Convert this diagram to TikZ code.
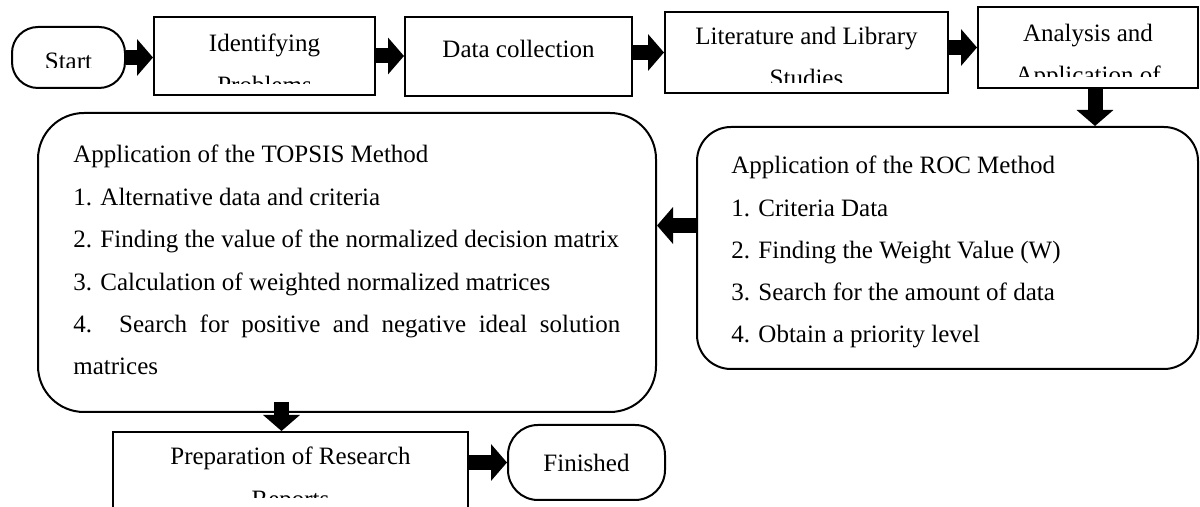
\documentclass[tikz,border=0pt]{standalone}
\usepackage{fontspec}
\setmainfont{Liberation Serif}
\usetikzlibrary{arrows.meta}

\begin{document}
\begin{tikzpicture}[x=0.5pt,y=-0.5pt,
  frame/.style={draw=black,line width=1pt,inner sep=0pt},
  sqbox/.style={frame},
  rbox/.style={frame,rounded corners=#1},
  lbl/.style={inner sep=0pt,font=\fontsize{12.5}{14}\selectfont},
  flow/.style={line width=7.5pt,-{Triangle[width=18pt,length=8pt]}}]

\useasboundingbox (0,0) rectangle (1200,507);
\clip (0,0) rectangle (1200,507);

% ---------- boxes ----------
\node[rbox=13pt,minimum width=56.5pt,minimum height=30.5pt] (start) at (68.5,57.5) {};
\node[sqbox,minimum width=110.5pt,minimum height=39pt] (ident) at (264.5,56) {};
\node[sqbox,minimum width=113.5pt,minimum height=39.5pt] (data) at (518.5,56.5) {};
\node[sqbox,minimum width=141.5pt,minimum height=40.5pt] (lit) at (806.5,52.5) {};
\node[sqbox,minimum width=110pt,minimum height=40.5pt] (ana) at (1088,47.5) {};
\node[rbox=17pt,minimum width=250.5pt,minimum height=121pt] (roc) at (947.5,248) {};
\node[rbox=23pt,minimum width=309pt,minimum height=149.5pt] (topsis) at (347,262.5) {};
\node[sqbox,minimum width=177.5pt,minimum height=54pt] (prep) at (290.5,486) {};
\node[rbox=15pt,minimum width=78.5pt,minimum height=37.5pt] (fin) at (586.5,462.5) {};

% ---------- texts of the upper row (text frames cut the second lines) ----------
\begin{scope}
  \clip (12,27) rectangle (125,68);
  \node[lbl,anchor=base] (start-t) at (68.5,70) {Start};
\end{scope}
\begin{scope}
  \clip (154,17) rectangle (375,84);
  \node[lbl,anchor=base] (ident-t1) at (264.5,52) {Identifying};
  \node[lbl,anchor=base] (ident-t2) at (264.5,94) {Problems};
\end{scope}
\node[lbl,anchor=base] (data-t) at (518.5,58) {Data collection};
\begin{scope}
  \clip (665,12) rectangle (948,83);
  \node[lbl,anchor=base] (lit-t1) at (806.5,45) {Literature and Library};
  \node[lbl,anchor=base] (lit-t2) at (806.5,87) {Studies};
\end{scope}
\begin{scope}
  \clip (978,7) rectangle (1198,77);
  \node[lbl,anchor=base] (ana-t1) at (1088,42) {Analysis and};
  \node[lbl,anchor=base] (ana-t2) at (1088,84) {Application of};
\end{scope}

% ---------- ROC method ----------
\node[lbl,anchor=base west] (roc-t0) at (731,174)   {Application of the ROC Method};
\node[lbl,anchor=base west] (roc-t1) at (731,216.3) {1. Criteria Data};
\node[lbl,anchor=base west] (roc-t2) at (731,258.6) {2. Finding the Weight Value (W)};
\node[lbl,anchor=base west] (roc-t3) at (731,301)   {3. Search for the amount of data};
\node[lbl,anchor=base west] (roc-t4) at (731,343)   {4. Obtain a priority level};

% ---------- TOPSIS method ----------
\node[lbl,anchor=base west] (top-t0) at (73,163)   {Application of the TOPSIS Method};
\node[lbl,anchor=base west] (top-t1) at (73,205.4) {1. Alternative data and criteria};
\node[lbl,anchor=base west] (top-t2) at (73,247.8) {2. Finding the value of the normalized decision matrix};
\node[lbl,anchor=base west] (top-t3) at (73,290.2) {3. Calculation of weighted normalized matrices};
\node[lbl,anchor=base west] (top-t4) at (73,332.6) {\makebox[273.5pt][s]{4. Search for positive and negative ideal solution}};
\node[lbl,anchor=base west] (top-t5) at (73,375)   {matrices};

% ---------- lower row ----------
\begin{scope}
  \clip (113,432) rectangle (468,498);
  \node[lbl,anchor=base] (prep-t1) at (290.5,465) {Preparation of Research};
  \node[lbl,anchor=base] (prep-t2) at (290.5,508) {Reports};
\end{scope}
\node[lbl,anchor=base] (fin-t) at (586.5,472) {Finished};

% ---------- connectors ----------
\coordinate (anaout) at ([xshift=3.5pt]ana.south);
\coordinate (rocout) at ([yshift=11.25pt]roc.west);
\coordinate (topout) at ([xshift=-32.75pt,yshift=5.5pt]topsis.south);

\draw[flow] (start.east) -- (start.east -| ident.west);
\draw[flow] (ident.east) -- (ident.east -| data.west);
\draw[flow] (data.east |- lit.west) -- (lit.west);
\draw[flow] (lit.east |- ana.west) -- (ana.west);
\draw[flow] (anaout) -- (anaout |- roc.north);
\draw[flow] (rocout) -- (rocout -| topsis.east);
\draw[flow] (topout) -- (topout |- prep.north);
\draw[flow] (prep.east |- fin.west) -- (fin.west);

\end{tikzpicture}
\end{document}
